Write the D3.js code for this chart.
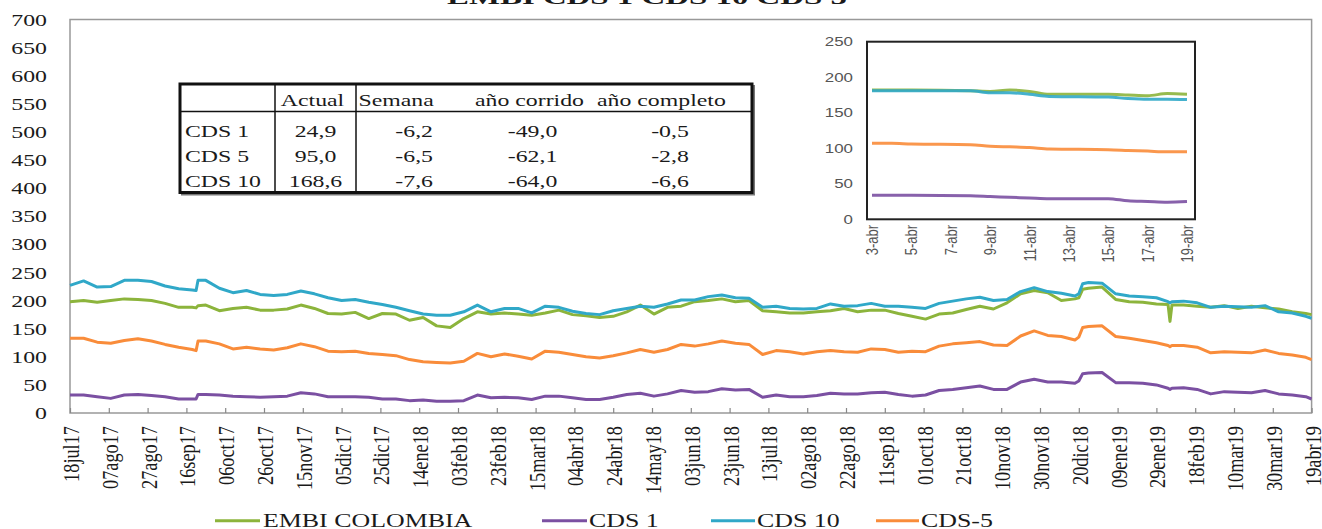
<!DOCTYPE html>
<html><head><meta charset="utf-8">
<script src="https://cdn.jsdelivr.net/npm/d3@7"></script>
<style>html,body{margin:0;padding:0;background:#fff;overflow:hidden}</style>
</head><body>
<svg id="c" width="1322" height="529"></svg>
<script>
// ---------- DATA ----------
const title = "EMBI CDS 1 CDS 10 CDS 5";
const dates = [
"2017-07-18","2017-07-25","2017-08-01","2017-08-08","2017-08-15","2017-08-22","2017-08-29","2017-09-05","2017-09-12","2017-09-19",
"2017-09-21","2017-09-22",
"2017-09-26","2017-10-03","2017-10-10","2017-10-17","2017-10-24","2017-10-31","2017-11-07","2017-11-14","2017-11-21","2017-11-28",
"2017-12-05","2017-12-12","2017-12-19","2017-12-26","2018-01-02","2018-01-09","2018-01-16","2018-01-23","2018-01-30","2018-02-06",
"2018-02-13","2018-02-20","2018-02-27","2018-03-06","2018-03-13","2018-03-20","2018-03-27","2018-04-03","2018-04-10","2018-04-17",
"2018-04-24","2018-05-01","2018-05-08","2018-05-15","2018-05-22","2018-05-29","2018-06-05","2018-06-12","2018-06-19","2018-06-26",
"2018-07-03","2018-07-10","2018-07-17","2018-07-24","2018-07-31","2018-08-07","2018-08-14","2018-08-21","2018-08-28","2018-09-04",
"2018-09-11","2018-09-18","2018-09-25","2018-10-02","2018-10-09","2018-10-16","2018-10-23","2018-10-30","2018-11-06","2018-11-13",
"2018-11-20","2018-11-27","2018-12-04","2018-12-11","2018-12-18",
"2018-12-20","2018-12-22",
"2018-12-25","2019-01-01","2019-01-08","2019-01-15","2019-01-22","2019-01-29",
"2019-02-04","2019-02-05","2019-02-06",
"2019-02-12","2019-02-19","2019-02-26","2019-03-05","2019-03-12","2019-03-19","2019-03-26","2019-04-02",
"2019-04-09","2019-04-16","2019-04-19"];
const embi = [198,200,197,200,203,202,200,195,188,188, 187,191,
192,182,186,188,183,183,185,192,186,177,176,179,168,177,176,165,170,155,
152,168,180,176,178,176,174,178,183,175,173,170,172,180,192,176,188,190,198,200,203,198,200,182,180,178,178,180,182,186,180,183,
183,177,172,167,176,178,184,190,185,196,212,218,214,200,203, 205,220,
222,224,202,198,197,194, 193,163,192,
192,190,188,191,186,190,187,185,180,177,175];
const cds1 = [32,32,29,26,32,33,31,29,25,25, 25,33,
33,32,30,29,28,29,30,36,34,29,29,29,28,25,25,22,23,21,
21,22,32,27,28,27,24,30,30,27,24,24,28,33,35,30,34,40,37,38,43,41,42,28,32,29,29,31,35,34,34,36,
37,33,30,32,40,42,45,48,42,42,55,60,55,55,53, 57,70,
71,72,54,54,53,50, 44,42,44,
45,42,34,38,37,36,40,34,32,29,24.9];
const cds10 = [227,235,224,225,236,236,234,226,221,219, 218,236,
236,222,214,218,211,209,211,217,212,205,200,202,197,193,188,182,176,174,
174,180,192,180,186,186,178,190,188,181,177,175,182,186,190,188,194,201,201,207,210,205,204,188,190,186,185,186,194,190,191,195,
190,190,188,186,195,199,203,206,200,202,216,223,216,213,208, 212,230,
232,231,212,208,207,205, 198,196,198,
199,196,188,190,189,188,191,180,178,172,168.6];
const cds5 = [133,133,126,124,129,132,128,122,117,113, 111,128,
128,123,114,117,114,112,116,123,118,110,109,110,106,104,102,95,91,90,
89,92,106,100,105,101,96,110,108,104,100,98,102,107,113,108,113,122,119,123,128,124,122,104,111,109,105,109,111,109,108,114,
113,108,110,109,119,123,125,127,121,120,137,146,138,136,130, 135,152,
154,155,136,133,129,125, 120,118,120,
120,117,107,109,108,107,112,106,103,99,95.0];

const xTickDates = ["2017-07-18","2017-08-07","2017-08-27","2017-09-16","2017-10-06","2017-10-26","2017-11-15","2017-12-05","2017-12-25",
"2018-01-14","2018-02-03","2018-02-23","2018-03-15","2018-04-04","2018-04-24","2018-05-14","2018-06-03","2018-06-23","2018-07-13",
"2018-08-02","2018-08-22","2018-09-11","2018-10-01","2018-10-21","2018-11-10","2018-11-30","2018-12-20","2019-01-09","2019-01-29",
"2019-02-18","2019-03-10","2019-03-30","2019-04-19"];
const xTickLabels = ["18jul17","07ago17","27ago17","16sep17","06oct17","26oct17","15nov17","05dic17","25dic17",
"14ene18","03feb18","23feb18","15mar18","04abr18","24abr18","14may18","03jun18","23jun18","13jul18",
"02ago18","22ago18","11sep18","01oct18","21oct18","10nov18","30nov18","20dic18","09ene19","29ene19",
"18feb19","10mar19","30mar19","19abr19"];
const yTicks = [0,50,100,150,200,250,300,350,400,450,500,550,600,650,700];

// inset (abril 2019)
const insetDates = ["2019-04-03","2019-04-04","2019-04-05","2019-04-08","2019-04-09","2019-04-10","2019-04-11","2019-04-12",
"2019-04-15","2019-04-16","2019-04-17","2019-04-18","2019-04-19"];
const insetEmbi  = [182,182,182,181,180,182,180,176,176,175,174,177,176];
const insetCds1  = [34,34,34,33,32,31,30,29,29,26,25,24,24.9];
const insetCds10 = [181,181,181,181,178,178,176,173,172,170,169,169,168.6];
const insetCds5  = [107,107,106,105,103,102,101,99,98,97,96,95,95.0];
const insetTickDates = ["2019-04-03","2019-04-05","2019-04-07","2019-04-09","2019-04-11","2019-04-13","2019-04-15","2019-04-17","2019-04-19"];
const insetTickLabels = ["3-abr","5-abr","7-abr","9-abr","11-abr","13-abr","15-abr","17-abr","19-abr"];
const insetYTicks = [0,50,100,150,200,250];

// table
const tableHeaders = ["", "Actual", "Semana", "año corrido", "año completo"];
const tableRows = ["CDS 1", "CDS 5", "CDS 10"];
const colActual = ["24,9", "95,0", "168,6"];
const colSemana = ["-6,2", "-6,5", "-7,6"];
const colCorrido = ["-49,0", "-62,1", "-64,0"];
const colCompleto = ["-0,5", "-2,8", "-6,6"];

const seriesNames = ["EMBI COLOMBIA", "CDS 1", "CDS 10", "CDS-5"];
const seriesColors = ["#8cb43c", "#7b50a2", "#30a8c8", "#f98c3a"];

// ---------- DRAW ----------
const parse = d3.utcParse("%Y-%m-%d");
const svg = d3.select("#c");
const SERIF = "'Liberation Serif','Times New Roman',serif";
const SANS = "'Liberation Sans',Arial,sans-serif";
const S = 1.4;

function stext(parent, x, y, str, o) {
  o = o || {};
  const g = parent.append("g")
    .attr("transform", `translate(${x},${y}) scale(${o.sx || S},1)` + (o.rotate ? ` rotate(${o.rotate})` : ""));
  const t = g.append("text").text(str)
    .attr("font-family", o.family || SERIF)
    .attr("font-size", o.size || 17)
    .attr("fill", o.fill || "#1a1a1a")
    .attr("text-anchor", o.anchor || "start");
  if (o.weight) t.attr("font-weight", o.weight);
  if (o.dy) t.attr("dy", o.dy);
  return t;
}

const M = {l: 70, r: 1311.6, t: 19.5, b: 413};
const x = d3.scaleUtc().domain([parse(xTickDates[0]), parse(xTickDates[xTickDates.length - 1])]).range([M.l, M.r]);
const y = d3.scaleLinear().domain([0, 700]).range([M.b, M.t]);

// title (clipped at top as in the source)
svg.append("text").text(title)
  .attr("x", 447).attr("y", 3.5)
  .attr("font-family", SERIF).attr("font-weight", "bold").attr("font-size", 19)
  .attr("textLength", 400).attr("lengthAdjust", "spacingAndGlyphs").attr("fill", "#1a1a1a");

// frame
svg.append("rect").attr("x", M.l).attr("y", M.t).attr("width", M.r - M.l).attr("height", M.b - M.t)
  .attr("fill", "none").attr("stroke", "#999").attr("stroke-width", 1.5);

// x ticks (inside)
const xAxis = d3.axisBottom(x).tickValues(xTickDates.map(parse)).tickSize(-5).tickFormat("");
const gx = svg.append("g").attr("transform", `translate(0,${M.b})`).call(xAxis);
gx.select(".domain").remove();
gx.selectAll(".tick line").attr("stroke", "#888").attr("stroke-width", 1.2);

xTickDates.forEach((d, i) => {
  stext(svg, x(parse(d)) + 9, 426, xTickLabels[i], {size: 18.3, anchor: "end", rotate: -90, sx: 1.3});
});
yTicks.forEach(v => {
  stext(svg, 47, y(v), String(v), {size: 17, anchor: "end", dy: "0.36em"});
});

// main lines
const allSeries = [embi, cds1, cds10, cds5];
const dts = dates.map(parse);
const line = d3.line().x((d, i) => x(dts[i])).y(d => y(d));
[1, 3, 0, 2].forEach(si => {
  svg.append("path").datum(allSeries[si]).attr("d", line)
    .attr("fill", "none").attr("stroke", seriesColors[si]).attr("stroke-width", 3)
    .attr("stroke-linejoin", "round");
});

// table
const T = {l: 180, r: 752, t: 84, b: 192.5, h: 111.5, c1: 275, c2: 356};
svg.append("rect").attr("x", T.l + 2).attr("y", T.t + 2).attr("width", T.r - T.l).attr("height", T.b - T.t)
  .attr("fill", "none").attr("stroke", "#777").attr("stroke-width", 2);
svg.append("rect").attr("x", T.l).attr("y", T.t).attr("width", T.r - T.l).attr("height", T.b - T.t)
  .attr("fill", "#fff").attr("stroke", "#111").attr("stroke-width", 3);
svg.append("line").attr("x1", T.l).attr("x2", T.r).attr("y1", T.h).attr("y2", T.h).attr("stroke", "#111").attr("stroke-width", 1.5);
[T.c1, T.c2].forEach(cx => svg.append("line").attr("x1", cx).attr("x2", cx).attr("y1", T.t).attr("y2", T.b)
  .attr("stroke", "#111").attr("stroke-width", 1.5));
const hb = 105.5;
stext(svg, 312.5, hb, tableHeaders[1], {size: 17, anchor: "middle"});
stext(svg, 358.5, hb, tableHeaders[2], {size: 17});
stext(svg, 475, hb, tableHeaders[3], {size: 17});
stext(svg, 597, hb, tableHeaders[4], {size: 17});
const rowB = [136.5, 162, 186.5];
tableRows.forEach((r, i) => {
  stext(svg, 185, rowB[i], r, {size: 17});
  stext(svg, 315.5, rowB[i], colActual[i], {size: 17, anchor: "middle"});
  stext(svg, 433, rowB[i], colSemana[i], {size: 17, anchor: "end"});
  stext(svg, 532.5, rowB[i], colCorrido[i], {size: 17, anchor: "middle"});
  stext(svg, 670, rowB[i], colCompleto[i], {size: 17, anchor: "middle"});
});

// inset
const I = {l: 867, r: 1195, t: 41.7, b: 219.3};
svg.append("rect").attr("x", I.l).attr("y", I.t).attr("width", I.r - I.l).attr("height", I.b - I.t)
  .attr("fill", "#fff").attr("stroke", "#222").attr("stroke-width", 2);
const ix = d3.scaleUtc().domain([parse(insetTickDates[0]), parse(insetTickDates[insetTickDates.length - 1])]).range([872, 1187]);
const iy = d3.scaleLinear().domain([0, 250]).range([I.b, I.t]);
const idts = insetDates.map(parse);
const iline = d3.line().x((d, i) => ix(idts[i])).y(d => iy(d)).curve(d3.curveMonotoneX);
const insetSeries = [insetEmbi, insetCds1, insetCds10, insetCds5];
[1, 3, 0, 2].forEach(si => {
  svg.append("path").datum(insetSeries[si]).attr("d", iline)
    .attr("fill", "none").attr("stroke", seriesColors[si]).attr("stroke-width", 3).attr("stroke-opacity", 0.9);
});
insetYTicks.forEach(v => {
  stext(svg, 853, iy(v), String(v), {size: 13, anchor: "end", dy: "0.36em", family: SANS, fill: "#555", sx: 1.3});
});
insetTickDates.forEach((d, i) => {
  stext(svg, ix(parse(d)) + 6, 225, insetTickLabels[i], {size: 13, anchor: "end", rotate: -90, family: SANS, fill: "#555", sx: 1.3});
});

// legend
const legX = [[215, 260, 263], [542, 587, 589], [711, 755, 757], [876, 919, 921]];
legX.forEach((p, i) => {
  svg.append("line").attr("x1", p[0]).attr("x2", p[1]).attr("y1", 520.7).attr("y2", 520.7)
    .attr("stroke", seriesColors[i]).attr("stroke-width", 3);
  stext(svg, p[2], 527.3, seriesNames[i], {size: 18.5});
});
</script>
</body></html>
